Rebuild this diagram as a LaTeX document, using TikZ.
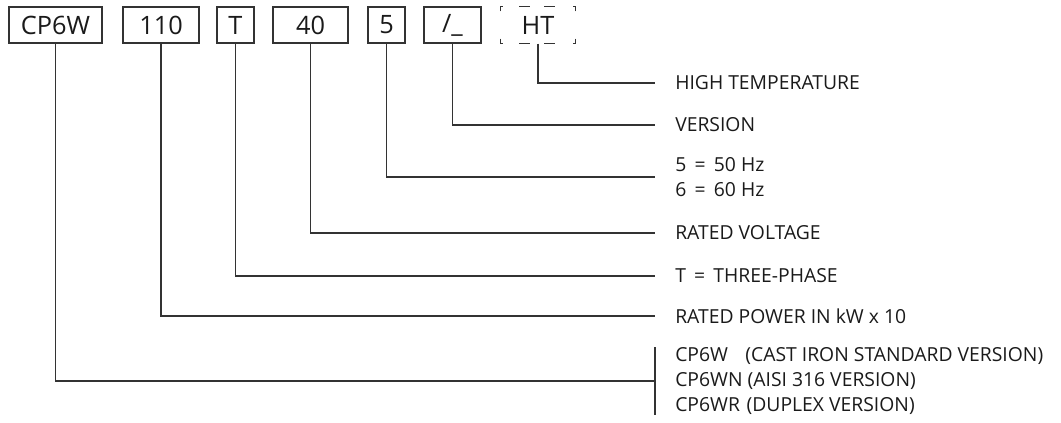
\documentclass[tikz,border=0pt]{standalone}
\usepackage{fontspec}
\setmainfont{Open Sans}
\usetikzlibrary{calc}
\definecolor{inkgray}{HTML}{333333}
\definecolor{txtgray}{HTML}{1A1A1A}

\begin{document}
\begin{tikzpicture}[x=0.75pt,y=-0.75pt,
  code/.style={draw=inkgray,line width=0.8pt,minimum height=27pt,inner sep=0pt,
    text=txtgray,font=\fontsize{19}{22}\selectfont},
  lbl/.style={anchor=west,align=left,inner xsep=0pt,inner ysep=0pt,
    text=txtgray,font=\fontsize{14.5}{18.75}\selectfont},
  lead/.style={draw=inkgray,line width=0.8pt}
]
  \useasboundingbox (0,0) rectangle (1061,422);
  \node[code,minimum width=69.75pt] (cp) at (55.5,25) {CP6W};
  \node[code,minimum width=57pt] (pw) at (161,25) {110};
  \node[code,minimum width=27.75pt] (tp) at (235.5,25) {T};
  \node[code,minimum width=56.25pt] (vl) at (310.5,25) {40};
  \node[code,minimum width=27.75pt] (fq) at (386.5,25) {5};
  \node[code,minimum width=42.75pt] (vs) at (452.5,25) {/\_};
  \node[code,draw=none,minimum width=55.5pt] (ht) at (538,25) {HT};
  \draw[lead] ($(ht.north west)+(0,5)$) -- (ht.north west) -- +(3,0);
  \draw[lead] ($(ht.north east)+(0,5)$) -- (ht.north east) -- +(-3,0);
  \draw[lead] ($(ht.south west)+(0,-5)$) -- (ht.south west) -- +(3,0);
  \draw[lead] ($(ht.south east)+(0,-5)$) -- (ht.south east) -- +(-3,0);
  \foreach \c in {north west,south west}
    \draw[lead] ($(ht.\c)+(19,0)$) -- +(11,0) ($(ht.\c)+(44,0)$) -- +(11,0);

  \node[lbl] (hi) at (675,83) {HIGH TEMPERATURE};
  \node[lbl] (ver) at (675,125) {VERSION};
  \node[lbl] (hz) at (675,177) {5 \,=\, 50 Hz\\6 \,=\, 60 Hz};
  \node[lbl] (volt) at (675,233) {RATED VOLTAGE};
  \node[lbl] (ph) at (675,276) {T \,=\, THREE-PHASE};
  \node[lbl] (pow) at (675,316) {RATED POWER IN kW x 10};
  \node[lbl] (mat) at (675,381) {CP6W\hspace{13pt}(CAST IRON STANDARD VERSION)\\
    CP6WN (AISI 316 VERSION)\\CP6WR\hspace{5pt}(DUPLEX VERSION)};

  \draw[lead] (ht.south) |- ([xshift=-15pt]hi.west);
  \draw[lead] (vs.south) |- ([xshift=-15pt]ver.west);
  \draw[lead] (fq.south) |- ([xshift=-15pt]hz.west);
  \draw[lead] (vl.south) |- ([xshift=-15pt]volt.west);
  \draw[lead] (tp.south) |- ([xshift=-15pt]ph.west);
  \draw[lead] (pw.south) |- ([xshift=-15pt]pow.west);
  \draw[lead] (cp.south) |- ([xshift=-15pt]mat.west);
  \draw[lead] ([xshift=-15pt]mat.north west) -- ([xshift=-15pt]mat.south west);
\end{tikzpicture}
\end{document}
